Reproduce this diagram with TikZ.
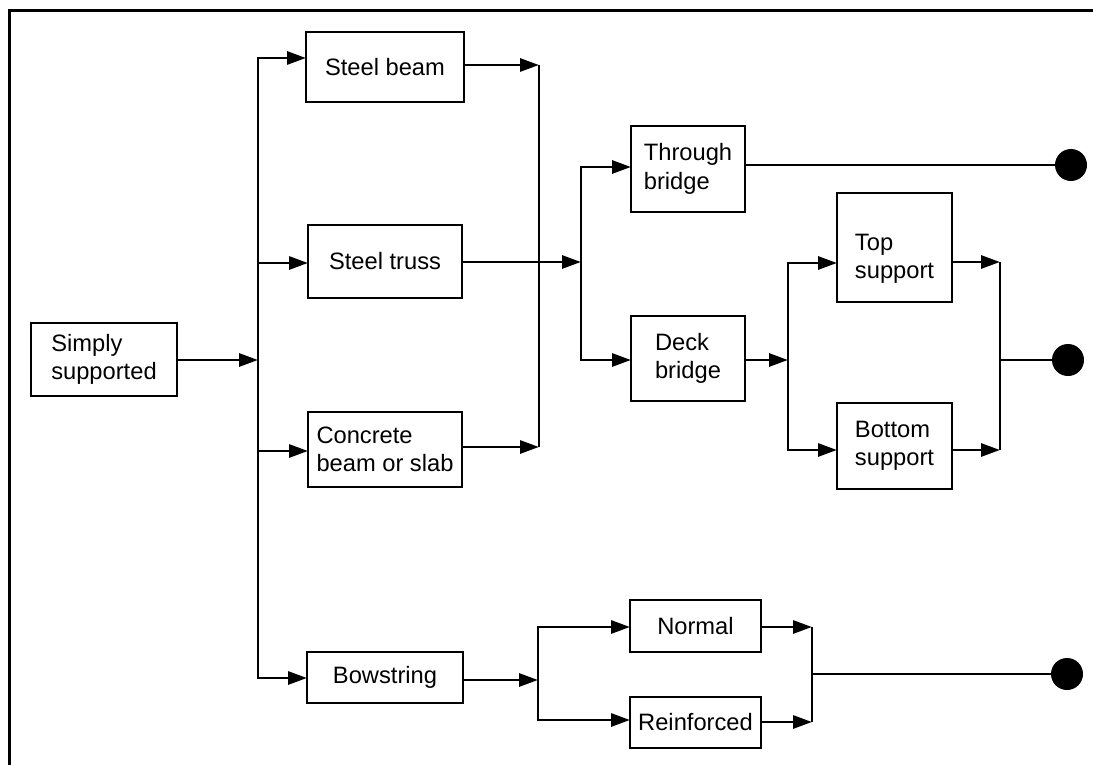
\documentclass[tikz,border=0pt]{standalone}
\usepackage{fontspec}
\setmainfont{Liberation Sans}
\usetikzlibrary{arrows.meta}
\begin{document}
\begin{tikzpicture}[x=1pt,y=-1pt,line width=2.9pt,
  box/.style={draw, rectangle, inner sep=0pt, outer sep=0pt, align=left,
    font=\fontsize{23.7}{28.5}\selectfont},
  lbl/.style={inner sep=0pt, outer sep=0pt, align=left,
    font=\fontsize{23.7}{28.5}\selectfont},
  conn/.style={-{Triangle[length=19pt,width=13pt]}},
  dot/.style={circle, fill=black, draw=none, minimum size=32pt, inner sep=0pt, outer sep=0pt}]
\useasboundingbox (0,0) rectangle (1093,765);
% frame
\draw (9.5,765) -- (9.5,10.5) -- (1093,10.5);
% boxes
\node[box, minimum width=146pt, minimum height=73pt] (simply) at (104,359.5) {Simply\\supported};
\node[box, minimum width=158pt, minimum height=70pt] (steelbeam) at (385,67) {Steel beam};
\node[box, minimum width=154pt, minimum height=73pt] (steeltruss) at (385,261.5) {Steel truss};
\node[box, minimum width=154pt, minimum height=75pt] (concrete) at (385,449.5) {Concrete\\beam or slab};
\node[box, minimum width=156pt, minimum height=51pt] (bowstring) at (385,677.5) {Bowstring};
\node[box, minimum width=114pt, minimum height=86pt] (through) at (688,169) {Through\\bridge};
\node[box, minimum width=114pt, minimum height=85pt] (deck) at (688,358.5) {Deck\\bridge};
\node[box, minimum width=115pt, minimum height=109pt] (topsup) at (894.5,247.5) {};
\node[lbl] (topsupt) at (894.5,259) {Top\\support};
\node[box, minimum width=115pt, minimum height=86pt] (botsup) at (894.5,446) {Bottom\\support};
\node[box, minimum width=131pt, minimum height=52pt] (normal) at (695.5,626) {Normal};
\node[box, minimum width=131pt, minimum height=51pt] (reinf) at (695.5,722.5) {Reinforced};
% end dots
\node[dot] (d1) at (1071,165) {};
\node[dot] (d2) at (1068,360) {};
\node[dot] (d3) at (1067,674) {};
% bus coordinates
\coordinate (b1t) at (258,58);
\coordinate (b1b) at (258,678);
\coordinate (b1in) at (258,360);
\coordinate (b1m1) at (258,263);
\coordinate (b1m2) at (258,451);
\coordinate (b2t) at (539,65);
\coordinate (b2b) at (539,447);
\coordinate (b3m) at (581,262);
\coordinate (b3t) at (581,167);
\coordinate (b3b) at (581,360);
\coordinate (b4m) at (788,360);
\coordinate (b4t) at (788,263);
\coordinate (b4b) at (788,450);
\coordinate (b5t) at (1000,262);
\coordinate (b5b) at (1000,450);
\coordinate (b5m) at (1000,360);
\coordinate (b6m) at (538,680);
\coordinate (b6t) at (538,627);
\coordinate (b6b) at (538,720);
\coordinate (b7t) at (812,627);
\coordinate (b7b) at (812,722);
\coordinate (b7m) at (812,674);
% first level
\draw[conn] (simply.east|-b1in) -- (b1in);
\draw[conn] (b1b) -- (b1t) -- (steelbeam.west|-b1t);
\draw[conn] (b1t) -- (b1b) -- (bowstring.west|-b1b);
\draw[conn] (b1m1) -- (steeltruss.west|-b1m1);
\draw[conn] (b1m2) -- (concrete.west|-b1m2);
% second bus
\draw (b2t) -- (b2b);
\draw[conn] (steelbeam.east|-b2t) -- (b2t);
\draw[conn] (concrete.east|-b2b) -- (b2b);
\draw[conn] (steeltruss.east|-b3m) -- (b3m);
% bridge type
\draw[conn] (b3b) -- (b3t) -- (through.west|-b3t);
\draw[conn] (b3t) -- (b3b) -- (deck.west|-b3b);
\draw (through.east|-d1) -- (d1);
\draw[conn] (deck.east|-b4m) -- (b4m);
% supports
\draw[conn] (b4b) -- (b4t) -- (topsup.west|-b4t);
\draw[conn] (b4t) -- (b4b) -- (botsup.west|-b4b);
\draw (b5t) -- (b5b);
\draw[conn] (topsup.east|-b5t) -- (b5t);
\draw[conn] (botsup.east|-b5b) -- (b5b);
\draw (b5m) -- (d2);
% bowstring
\draw[conn] (bowstring.east|-b6m) -- (b6m);
\draw[conn] (b6b) -- (b6t) -- (normal.west|-b6t);
\draw[conn] (b6t) -- (b6b) -- (reinf.west|-b6b);
\draw (b7t) -- (b7b);
\draw[conn] (normal.east|-b7t) -- (b7t);
\draw[conn] (reinf.east|-b7b) -- (b7b);
\draw (b7m) -- (d3);
\end{tikzpicture}
\end{document}
